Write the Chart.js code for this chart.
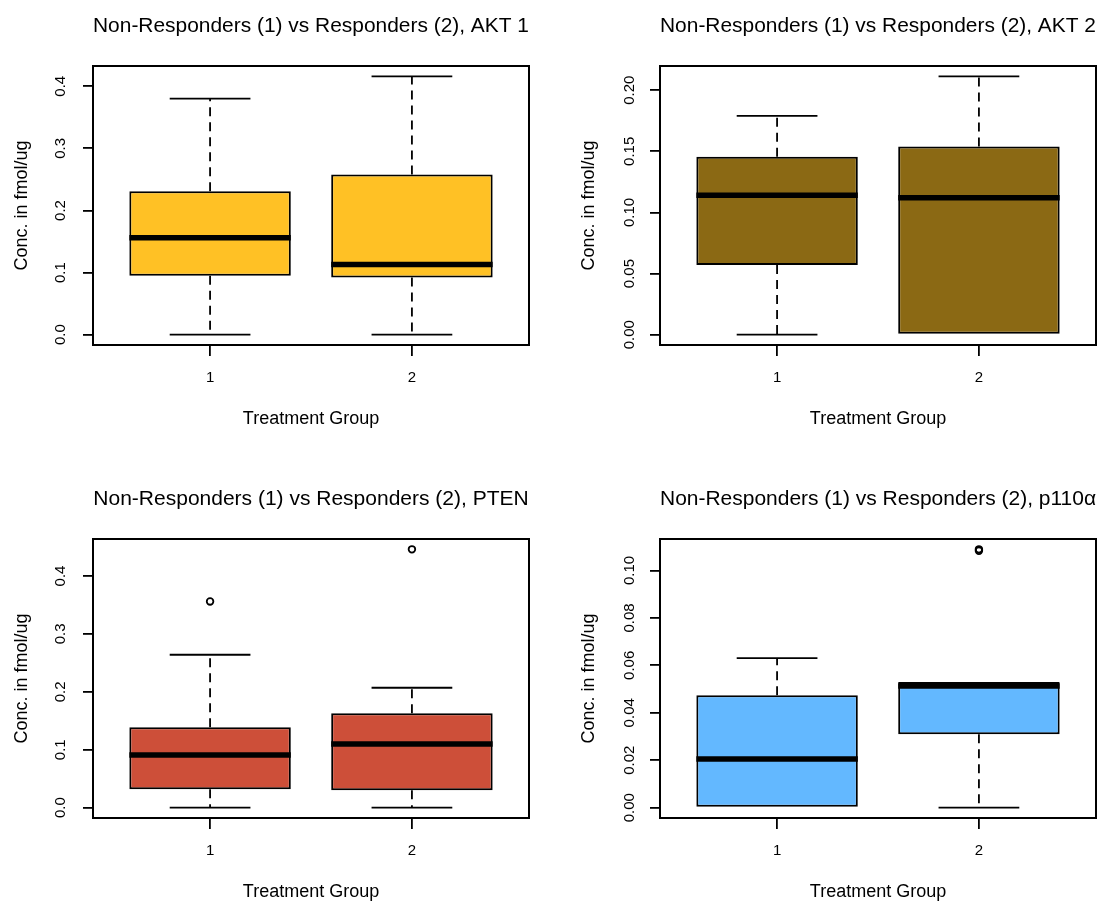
<!DOCTYPE html>
<html>
<head>
<meta charset="utf-8">
<script src="https://cdn.jsdelivr.net/npm/chart.js@4.4.1/dist/chart.umd.min.js"></script>
<style>
html,body{margin:0;padding:0;background:#fff;}
body{width:1106px;height:902px;overflow:hidden;position:relative;}
canvas{position:absolute;}
</style>
</head>
<body>
<canvas id="akt1" width="553" height="451" style="left:0;top:0"></canvas>
<canvas id="akt2" width="553" height="451" style="left:567px;top:0"></canvas>
<canvas id="pten" width="553" height="451" style="left:0;top:473px"></canvas>
<canvas id="p110" width="553" height="451" style="left:567px;top:473px"></canvas>
<script>
// groups on the x axis
const groups = ["1", "2"];
const xTitle = "Treatment Group";
const yTitle = "Conc. in fmol/ug";

// boxplot stats per group: [lower whisker, Q1, median, Q3, upper whisker]
const akt1Stats = [[0, 0.095, 0.156, 0.231, 0.380], [0, 0.092, 0.113, 0.258, 0.416]];
const akt1Out = [[], []];
const akt1Ticks = [0, 0.1, 0.2, 0.3, 0.4];
const akt1TickLabels = ["0.0", "0.1", "0.2", "0.3", "0.4"];

const akt2Stats = [[0, 0.057, 0.114, 0.1455, 0.179], [0, 0, 0.112, 0.154, 0.2114]];
const akt2Out = [[], []];
const akt2Ticks = [0, 0.05, 0.10, 0.15, 0.20];
const akt2TickLabels = ["0.00", "0.05", "0.10", "0.15", "0.20"];

const ptenStats = [[0, 0.032, 0.091, 0.139, 0.264], [0, 0.030, 0.110, 0.163, 0.207]];
const ptenOut = [[0.356], [0.446]];
const ptenTicks = [0, 0.1, 0.2, 0.3, 0.4];
const ptenTickLabels = ["0.0", "0.1", "0.2", "0.3", "0.4"];

const p110Stats = [[0, 0, 0.0205, 0.0474, 0.063], [0, 0.031, 0.0513, 0.053, 0.053]];
const p110Out = [[], [0.1083, 0.1089]];
const p110Ticks = [0, 0.02, 0.04, 0.06, 0.08, 0.10];
const p110TickLabels = ["0.00", "0.02", "0.04", "0.06", "0.08", "0.10"];

Chart.defaults.font.family = '"Liberation Sans", Arial, sans-serif';
Chart.defaults.color = "#000";

// whiskers, staples, median and the frame round the plot
const boxWhisker = {
  id: "boxWhisker",
  afterDatasetsDraw(chart) {
    const ds = chart.data.datasets[0];
    const bars = chart.getDatasetMeta(0).data;
    const y = chart.scales.y;
    const ctx = chart.ctx;
    ctx.save();
    ctx.strokeStyle = "#000";
    bars.forEach((bar, i) => {
      const s = ds.stats[i];
      const {x, width} = bar.getProps(["x", "width"], true);
      const half = width / 2, cap = width / 4;
      ctx.lineWidth = 1.8;
      ctx.setLineDash([9, 6]);
      ctx.beginPath();
      ctx.moveTo(x, y.getPixelForValue(s[1])); ctx.lineTo(x, y.getPixelForValue(s[0]));
      ctx.moveTo(x, y.getPixelForValue(s[3])); ctx.lineTo(x, y.getPixelForValue(s[4]));
      ctx.stroke();
      ctx.setLineDash([]);
      ctx.beginPath();
      // staples; where a whisker has no length the box edge covers it
      if (s[0] !== s[1]) {
        const py = y.getPixelForValue(s[0]);
        ctx.moveTo(x - cap, py); ctx.lineTo(x + cap, py);
      }
      if (s[4] !== s[3]) {
        const py = y.getPixelForValue(s[4]);
        ctx.moveTo(x - cap, py); ctx.lineTo(x + cap, py);
      }
      ctx.stroke();
      ctx.lineWidth = 5.5;
      ctx.beginPath();
      const m = y.getPixelForValue(s[2]);
      ctx.moveTo(x - half, m); ctx.lineTo(x + half, m);
      ctx.stroke();
    });
    const a = chart.chartArea;
    ctx.lineWidth = 2;
    ctx.strokeRect(a.left, a.top, a.right - a.left, a.bottom - a.top);
    ctx.restore();
  }
};

function makePanel(id, title, stats, outliers, ticks, tickLabels, fill, labelPad) {
  const all = stats.flat().concat(outliers.flat());
  const lo = Math.min(...all), hi = Math.max(...all);
  const ext = (hi - lo) * 0.04;
  const xExt = groups.length * 0.04;

  new Chart(document.getElementById(id), {
    type: "bar",
    data: {
      datasets: [
        {
          type: "bar",
          stats: stats,
          data: stats.map((s, i) => ({x: i + 1, y: [s[1], s[3]]})),
          backgroundColor: fill,
          borderColor: "#000",
          borderWidth: 2,
          borderSkipped: false,
          barPercentage: 0.8,
          categoryPercentage: 1
        },
        {
          type: "scatter",
          data: outliers.flatMap((o, i) => o.map(v => ({x: i + 1, y: v}))),
          pointRadius: 3.3,
          pointBorderWidth: 1.8,
          pointBorderColor: "#000",
          pointBackgroundColor: "rgba(0,0,0,0)"
        }
      ]
    },
    options: {
      responsive: false,
      animation: false,
      events: [],
      layout: {padding: {left: 0, right: 24, top: 0, bottom: 0}},
      plugins: {
        legend: {display: false},
        tooltip: {enabled: false},
        title: {
          display: true, text: title, fullSize: false, color: "#000",
          font: {size: 21, weight: "normal"},
          padding: {top: 13.4, bottom: 27.4}
        }
      },
      scales: {
        x: {
          type: "linear", offset: false, bounds: "data",
          min: 0.5 - xExt, max: groups.length + 0.5 + xExt,
          afterBuildTicks: s => { s.ticks = groups.map((g, i) => ({value: i + 1})); },
          afterFit: s => { s.height = 106; },
          ticks: {callback: (v, i) => groups[i], autoSkip: false, maxRotation: 0, padding: 13, color: "#000", font: {size: 15}},
          grid: {drawOnChartArea: false, offset: false, tickLength: 11, color: "#000", lineWidth: 1.8},
          border: {display: false},
          title: {display: true, text: xTitle, color: "#000", font: {size: 18}, padding: {top: 0, bottom: 21.4}}
        },
        y: {
          type: "linear", bounds: "data",
          min: lo - ext, max: hi + ext,
          afterBuildTicks: s => { s.ticks = ticks.map(v => ({value: v})); },
          afterFit: s => { s.width = 93; },
          ticks: {callback: (v, i) => tickLabels[i], autoSkip: false, minRotation: 90, maxRotation: 90, crossAlign: "center", padding: labelPad, color: "#000", font: {size: 15}},
          grid: {drawOnChartArea: false, tickLength: 10, color: "#000", lineWidth: 1.8},
          border: {display: false},
          title: {display: true, text: yTitle, color: "#000", font: {size: 18}, padding: {top: 11.2, bottom: 0}}
        }
      }
    },
    plugins: [boxWhisker]
  });
}

makePanel("akt1", "Non-Responders (1) vs Responders (2), AKT 1", akt1Stats, akt1Out, akt1Ticks, akt1TickLabels, "#FFC125", 11.3);
makePanel("akt2", "Non-Responders (1) vs Responders (2), AKT 2", akt2Stats, akt2Out, akt2Ticks, akt2TickLabels, "#8B6914", 5.1);
makePanel("pten", "Non-Responders (1) vs Responders (2), PTEN", ptenStats, ptenOut, ptenTicks, ptenTickLabels, "#CD4F39", 11.3);
makePanel("p110", "Non-Responders (1) vs Responders (2), p110\u03b1", p110Stats, p110Out, p110Ticks, p110TickLabels, "#63B8FF", 5.1);
</script>
</body>
</html>
